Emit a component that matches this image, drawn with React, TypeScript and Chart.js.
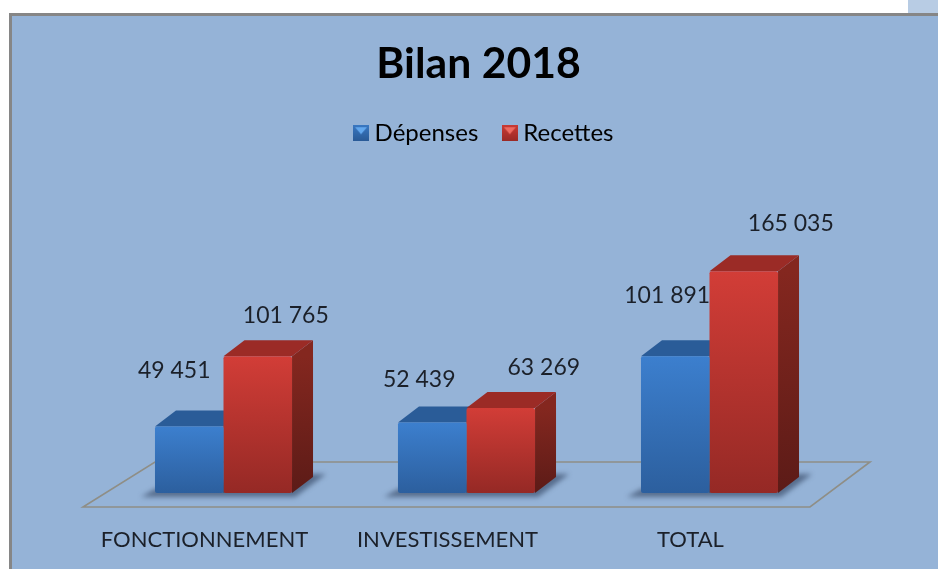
import React, { useEffect, useRef } from "react";
import { Chart, registerables } from "chart.js";

Chart.register(...registerables);

const titleText = "Bilan 2018";
const categories = ["FONCTIONNEMENT", "INVESTISSEMENT", "TOTAL"];
const depenses = [49451, 52439, 101891];
const recettes = [101765, 63269, 165035];
const seriesNames = ["Dépenses", "Recettes"];

const FONT = "Lato, Carlito, sans-serif";
const INK = "#1b2029";
const DEPTH_X = 21;
const DEPTH_Y = 16;
// hand-placed data label offsets relative to each bar's top-centre, as in the source
const labelShift = [
  [[-15, -56], [-13, -43], [-8, -61]],
  [[28, -41], [43, -40], [47, -48]],
];
const palette = [
  { front: ["#3c7fce", "#2c5f9e"], top: "#2a5c98", side: ["#23517f", "#1d4068"] },
  { front: ["#d23d37", "#952925"], top: "#9b2b26", side: ["#84271f", "#5c1b17"] },
];

const fmt = (v: number) => String(v).replace(/\B(?=(\d{3})+$)/g, " ");

function makeIcon(top: string, bottom: string, light: string) {
  const c = document.createElement("canvas");
  c.width = 16;
  c.height = 16;
  const g = c.getContext("2d")!;
  const lg = g.createLinearGradient(0, 0, 0, 16);
  lg.addColorStop(0, top);
  lg.addColorStop(1, bottom);
  g.fillStyle = lg;
  g.fillRect(0, 0, 16, 16);
  g.fillStyle = light;
  g.beginPath();
  g.moveTo(2, 2);
  g.lineTo(14, 2);
  g.lineTo(8, 9);
  g.closePath();
  g.fill();
  return c;
}

const shiftHeader = {
  id: "shiftHeader",
  afterLayout(chart: any) {
    const t = chart.titleBlock;
    t.left += 12;
    t.right += 12;
    const l = chart.legend;
    l.left += 20;
    l.right += 20;
  },
};

const poly = (ctx: CanvasRenderingContext2D, pts: number[][]) => {
  ctx.beginPath();
  pts.forEach((p, i) => (i ? ctx.lineTo(p[0], p[1]) : ctx.moveTo(p[0], p[1])));
  ctx.closePath();
};

const scene = {
  id: "scene",
  beforeDatasetsDraw(chart: any) {
    const { ctx, chartArea: a } = chart;
    ctx.save();
    // floor
    poly(ctx, [
      [a.left - 19, a.bottom + 14],
      [a.right - 21, a.bottom + 14],
      [a.right + 39, a.bottom - 31],
      [a.left + 53, a.bottom - 31],
    ]);
    ctx.strokeStyle = "#8f8e86";
    ctx.lineWidth = 1.6;
    ctx.stroke();
    // shadows
    const m0 = chart.getDatasetMeta(0).data;
    const m1 = chart.getDatasetMeta(1).data;
    ctx.save();
    ctx.filter = "blur(2.5px)";
    ctx.fillStyle = "rgba(48,66,96,0.62)";
    m0.forEach((b: any, i: number) => {
      const l = b.x - b.width / 2;
      const r = m1[i].x + m1[i].width / 2;
      poly(ctx, [
        [l - 14, a.bottom + 4],
        [r + 3, a.bottom + 4],
        [r + 34, a.bottom - 19],
        [r + 10, a.bottom - 19],
        [l, a.bottom - 4],
      ]);
      ctx.fill();
    });
    ctx.restore();
    // top and side faces
    [m0, m1].forEach((meta: any[], k: number) => {
      const pal = palette[k];
      meta.forEach((b: any) => {
        const l = b.x - b.width / 2;
        const r = b.x + b.width / 2;
        const y = b.y;
        const base = b.base;
        const sg = ctx.createLinearGradient(0, y, 0, base);
        sg.addColorStop(0, pal.side[0]);
        sg.addColorStop(1, pal.side[1]);
        ctx.fillStyle = sg;
        poly(ctx, [
          [r, y],
          [r + DEPTH_X, y - DEPTH_Y],
          [r + DEPTH_X, base - DEPTH_Y],
          [r, base],
        ]);
        ctx.fill();
        ctx.fillStyle = pal.top;
        poly(ctx, [
          [l, y],
          [l + DEPTH_X, y - DEPTH_Y],
          [r + DEPTH_X, y - DEPTH_Y],
          [r, y],
        ]);
        ctx.fill();
      });
    });
    ctx.restore();
  },
  afterDatasetsDraw(chart: any) {
    const { ctx } = chart;
    ctx.save();
    ctx.font = `23px ${FONT}`;
    ctx.fillStyle = INK;
    ctx.textAlign = "center";
    ctx.textBaseline = "middle";
    chart.data.datasets.forEach((ds: any, k: number) => {
      chart.getDatasetMeta(k).data.forEach((b: any, i: number) => {
        const [dx, dy] = labelShift[k][i];
        ctx.fillText(fmt(ds.data[i]), b.x + dx, b.y + dy);
      });
    });
    ctx.restore();
  },
};

export default function App() {
  const ref = useRef<HTMLCanvasElement>(null);
  useEffect(() => {
    document.body.style.margin = "0";
    const frontFill = (k: number) => (c: any) => {
      const yScale = c.chart.scales.y;
      const v = c.parsed?.y;
      if (!yScale || v == null) return palette[k].front[0];
      const g = c.chart.ctx.createLinearGradient(0, yScale.getPixelForValue(v), 0, yScale.getPixelForValue(0));
      g.addColorStop(0, palette[k].front[0]);
      g.addColorStop(1, palette[k].front[1]);
      return g;
    };
    const icons = [
      makeIcon("#3a78c2", "#2a5a96", "#63a8ee"),
      makeIcon("#c93a34", "#992a26", "#ee6a60"),
    ];
    const chart = new Chart(ref.current!, {
      type: "bar",
      data: {
        labels: categories,
        datasets: [
          { label: seriesNames[0], data: depenses, backgroundColor: frontFill(0), borderRadius: 2, borderSkipped: false },
          { label: seriesNames[1], data: recettes, backgroundColor: frontFill(1), borderRadius: 2, borderSkipped: false },
        ],
      },
      options: {
        responsive: false,
        animation: false,
        events: [],
        layout: { padding: { left: 102, right: 107, top: 0, bottom: 14 } },
        datasets: { bar: { categoryPercentage: 0.564, barPercentage: 1 } },
        scales: {
          x: {
            grid: { display: false, drawTicks: false },
            border: { display: false },
            afterFit: (s: any) => {
              s.height = 62;
            },
            ticks: {
              color: INK,
              font: { family: FONT, size: 22 },
              padding: 34,
              labelOffset: -19,
              maxRotation: 0,
              autoSkip: false,
            },
          },
          y: { display: false, min: 0, max: 251500 },
        },
        plugins: {
          title: {
            display: true,
            text: titleText,
            color: "#000",
            font: { family: FONT, size: 42.7, weight: "bold", lineHeight: 1.2 },
            padding: { top: 39, bottom: 1 },
          },
          legend: {
            display: true,
            labels: {
              color: INK,
              font: { family: FONT, size: 24 },
              usePointStyle: true,
              boxWidth: 3,
              boxHeight: 16,
              padding: 30,
              generateLabels: () =>
                seriesNames.map((n, i) => ({
                  text: n,
                  pointStyle: icons[i],
                  fillStyle: palette[i].front[0],
                  strokeStyle: palette[i].front[0],
                  lineWidth: 0,
                  hidden: false,
                  datasetIndex: i,
                })),
            },
          },
          tooltip: { enabled: false },
        },
      } as any,
      plugins: [shiftHeader, scene],
    });
    return () => chart.destroy();
  }, []);
  return (
    <div style={{ position: "relative", width: 938, height: 569, background: "#fff", overflow: "hidden" }}>
      <div style={{ position: "absolute", left: 908, top: 0, width: 30, height: 13, background: "#b8cce4" }} />
      <div
        style={{
          position: "absolute",
          left: 9,
          top: 13,
          right: 0,
          bottom: 0,
          background: "#95b3d7",
          borderLeft: "3px solid #868686",
          borderTop: "3px solid #868686",
        }}
      />
      <canvas ref={ref} width={938} height={569} style={{ position: "absolute", left: 0, top: 0, display: "block" }} />
    </div>
  );
}
